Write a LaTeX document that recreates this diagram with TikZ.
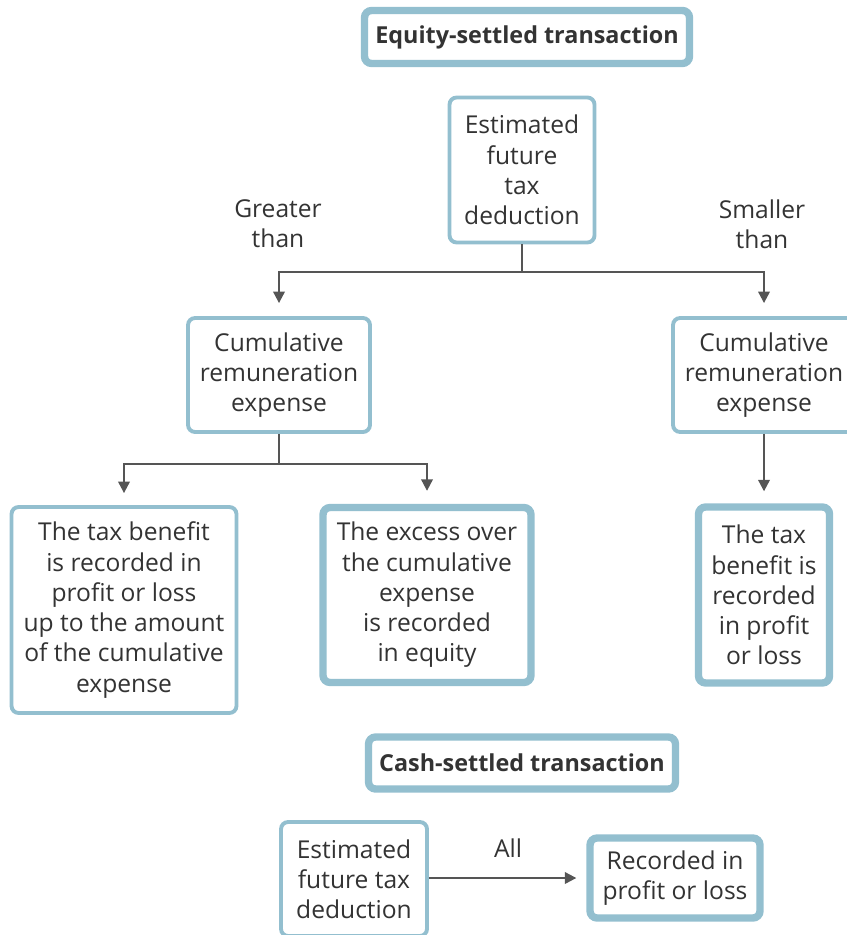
\documentclass[tikz,border=0pt]{standalone}
\usepackage{fontspec}
\setmainfont{Open Sans}
\usetikzlibrary{calc,arrows.meta}

\definecolor{frame}{HTML}{93BFCF}
\definecolor{ink}{HTML}{333333}
\definecolor{wire}{HTML}{555555}

\tikzset{
  box/.style={draw=frame, line width=2.2pt, rounded corners=4pt, fill=white,
    align=center, text=ink, inner sep=1pt, font=\fontsize{14}{17.2}\selectfont},
  boldbox/.style={box, line width=4.2pt},
  title/.style={boldbox, font=\fontsize{13.3}{16}\selectfont\bfseries},
  lbl/.style={align=center, text=ink, font=\fontsize{14}{17.2}\selectfont},
  link/.style={draw=wire, line width=1.2pt, -{Triangle[length=6.5pt,width=6.5pt]}}
}

\begin{document}
\begin{tikzpicture}[x=0.02cm, y=-0.02cm]
        \useasboundingbox (0,0) rectangle (846,935);

        % Equity-settled part
        \node (Equity) [title, minimum width=6.5cm, minimum height=1.06cm] at (527,37) {Equity-settled transaction};

        \node (Est) [box, minimum width=2.9cm, minimum height=2.9cm] at (522,170) {Estimated\\future\\tax\\deduction};

        \node (Greater) [lbl] at (278,224) {Greater\\than};
        \node (Smaller) [lbl] at (762,224) {Smaller\\than};

        \node (Cum) [box, minimum width=3.64cm, minimum height=2.28cm] at (279,375) {Cumulative\\remuneration\\expense};
        \node (Cum_1) [box, minimum width=3.64cm, minimum height=2.28cm] at (764,375) {Cumulative\\remuneration\\expense};

        \node (Loss) [box, minimum width=4.5cm, minimum height=4.12cm] at (124,610) {The tax benefit\\is recorded in\\profit or loss\\up to the amount\\of the cumulative\\expense};
        \node (Excess) [boldbox, minimum width=4.16cm, minimum height=3.5cm] at (427,595) {The excess over\\the cumulative\\expense\\is recorded\\in equity};
        \node (Loss_1) [boldbox, minimum width=2.62cm, minimum height=3.52cm] at (764,595) {The tax\\benefit is\\recorded\\in profit\\or loss};

        % Cash-settled part
        \node (Cash) [title, minimum width=6.14cm, minimum height=1.04cm] at (522,763) {Cash-settled transaction};

        \node (Est_1) [box, minimum width=2.92cm, minimum height=2.28cm] at (354,879) {Estimated\\future tax\\deduction};
        \node (Rec) [boldbox, minimum width=3.4cm, minimum height=1.6cm] at (675,878) {Recorded in\\profit or loss};
        \node (All) [lbl] at (508,848) {All};

        % Connectors
        \coordinate (split) at ($(Est.south) + (0,28)$);
        \draw [draw=wire, line width=1.2pt] (Est.south) -- (split);
        \draw [link] (split) -| ($(Cum.north) + (0,-13)$);
        \draw [link] (split) -| ($(Cum_1.north) + (0,-13)$);

        \coordinate (split_1) at ($(Cum.south) + (0,30)$);
        \draw [draw=wire, line width=1.2pt] (Cum.south) -- (split_1);
        \draw [link] (split_1) -| ($(Loss.north) + (0,-12)$);
        \draw [link] (split_1) -| ($(Excess.north) + (0,-13)$);

        \draw [link] (Cum_1.south) -- ($(Loss_1.north) + (0,-12)$);

        \draw [link] (Est_1.east |- Rec) -- ($(Rec.west) + (-10,0)$);
\end{tikzpicture}
\end{document}
